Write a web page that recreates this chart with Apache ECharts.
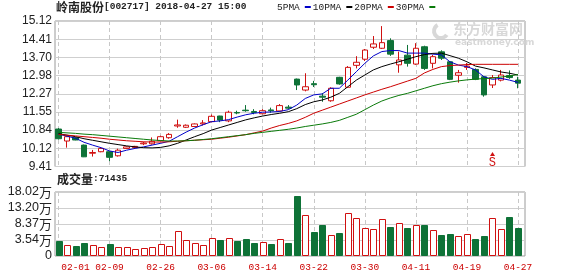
<!DOCTYPE html>
<html><head><meta charset="utf-8">
<script src="https://cdn.jsdelivr.net/npm/echarts@6/dist/echarts.min.js"></script>
<style>html,body{margin:0;padding:0;background:#fff}#c{width:578px;height:276px}</style>
</head><body><div id="c"></div>
<script>
// ---------------- data ----------------
const TITLE_NAME = '岭南股份';
const TITLE_INFO = '[002717] 2018-04-27 15:00';
const LAST_VOLUME = '71435';
const DATES = ['01-30','01-31','02-01','02-02','02-07','02-08','02-09','02-12','02-13','02-14',
  '02-22','02-23','02-26','02-27','02-28','03-01','03-02','03-05','03-06','03-07',
  '03-08','03-09','03-12','03-13','03-14','03-15','03-16','03-19','03-20','03-21',
  '03-22','03-23','03-26','03-27','03-28','03-29','03-30','04-02','04-03','04-04',
  '04-09','04-10','04-11','04-12','04-13','04-16','04-17','04-18','04-19','04-20',
  '04-23','04-24','04-25','04-26','04-27'];
const DATE_LABELS = ['02-01','02-09','02-26','03-06','03-14','03-22','03-30','04-11','04-19','04-27'];
const OPEN  = [10.88,10.41,10.54,10.25,9.93,9.99,9.99,9.83,10.12,10.15,10.30,10.30,10.42,10.54,11.00,10.95,10.98,11.08,11.17,11.39,
  11.20,11.53,11.62,11.57,11.48,11.63,11.59,11.74,12.84,12.41,12.66,12.17,11.99,12.91,12.52,13.38,13.62,14.09,14.05,14.35,
  13.40,13.78,13.43,14.11,13.46,13.91,13.52,12.99,13.30,13.22,12.93,12.61,12.80,12.98,12.80];
const HIGH  = [10.92,10.60,10.56,10.27,10.06,10.14,10.00,10.11,10.20,10.22,10.38,10.55,10.62,10.72,11.25,11.06,11.10,11.23,11.45,11.40,
  11.60,11.60,11.82,11.66,11.66,11.72,11.86,11.82,12.86,13.07,12.77,12.29,12.52,12.93,13.35,13.74,14.02,14.53,14.92,14.44,
  13.92,14.18,14.25,14.15,13.79,13.97,13.55,13.20,13.47,13.26,12.96,13.00,13.20,13.18,12.93];
const LOW   = [10.47,10.15,10.44,9.78,9.80,9.97,9.62,9.80,10.10,10.13,10.25,10.27,10.40,10.50,10.93,10.92,10.96,11.02,11.15,11.15,
  11.15,11.46,11.56,11.46,11.46,11.52,11.57,11.66,12.41,12.36,12.53,11.95,11.95,12.62,12.50,13.26,13.55,14.02,14.02,13.75,
  13.09,13.33,13.40,13.20,13.26,13.59,12.80,12.70,13.20,12.80,12.15,12.49,12.75,12.85,12.48];
const CLOSE = [10.50,10.58,10.45,9.79,9.96,10.12,9.77,10.05,10.18,10.20,10.33,10.40,10.58,10.67,11.04,11.03,11.08,11.12,11.38,11.23,
  11.54,11.51,11.60,11.53,11.60,11.60,11.80,11.70,12.61,12.54,12.62,12.13,12.48,12.65,13.30,13.50,13.98,14.22,14.27,13.82,
  13.59,13.46,14.05,13.26,13.72,13.66,12.83,13.09,13.35,12.83,12.22,12.90,13.00,12.90,12.68];
const MA5  = [10.68,10.60,10.52,10.36,10.25,10.15,10.02,9.96,10.05,10.12,10.18,10.25,10.32,10.40,10.58,10.76,10.92,11.05,11.17,11.20,
  11.25,11.35,11.44,11.50,11.54,11.55,11.57,11.64,11.82,12.08,12.22,12.26,12.48,12.48,12.80,13.13,13.46,13.75,13.92,13.96,
  13.96,13.86,13.86,13.86,13.82,13.79,13.52,13.39,13.33,13.20,12.93,12.83,12.87,12.80,12.71];
const MA10 = [10.70,10.64,10.58,10.50,10.44,10.38,10.32,10.27,10.22,10.18,10.15,10.14,10.16,10.22,10.32,10.45,10.58,10.70,10.84,10.94,
  11.04,11.14,11.24,11.32,11.39,11.45,11.50,11.56,11.68,11.84,11.95,12.02,12.13,12.28,12.54,12.80,13.00,13.20,13.33,13.43,
  13.52,13.62,13.72,13.80,13.85,13.86,13.76,13.66,13.52,13.35,13.28,13.20,13.12,13.07,13.00];
const MA20 = [10.67,10.64,10.61,10.58,10.55,10.52,10.48,10.45,10.42,10.40,10.38,10.37,10.37,10.38,10.40,10.42,10.44,10.46,10.48,10.52,
  10.56,10.61,10.66,10.73,10.80,10.92,11.02,11.10,11.20,11.34,11.50,11.62,11.74,11.86,11.98,12.10,12.22,12.33,12.44,12.54,
  12.65,12.76,12.87,13.08,13.22,13.33,13.37,13.39,13.41,13.42,13.42,13.42,13.42,13.42,13.42];
const MA30 = [10.75,10.73,10.71,10.68,10.66,10.63,10.60,10.57,10.54,10.51,10.48,10.45,10.43,10.41,10.41,10.42,10.44,10.47,10.50,10.54,
  10.58,10.62,10.66,10.71,10.75,10.79,10.83,10.87,10.92,10.98,11.03,11.08,11.14,11.22,11.34,11.46,11.64,11.82,11.98,12.10,
  12.20,12.28,12.38,12.48,12.58,12.66,12.72,12.77,12.81,12.84,12.86,12.88,12.92,12.96,13.02];
// volume in 万 (10k lots)
const VOLUME = [3.33,2.03,1.73,2.64,2.03,1.52,2.33,1.34,1.52,0.83,1.22,1.52,2.33,1.83,6.26,3.45,2.64,2.03,4.14,3.54,
  4.14,3.24,3.84,2.64,2.94,2.33,3.84,2.64,16.90,11.08,6.05,8.07,5.05,5.75,11.59,10.18,7.25,6.86,9.87,7.55,
  8.58,7.25,8.07,8.07,6.56,5.05,5.35,4.75,5.35,3.94,4.75,10.18,6.86,10.57,7.14];
const PRICE_TICKS = ['9.41','10.12','10.84','11.55','12.27','12.98','13.70','14.41','15.12'];
const PRICE_MIN = 9.41, PRICE_MAX = 15.12;
const VOL_TICKS = ['0','3.54','8.37','13.20','18.02'];
const VOL_UNIT = '万';
const VOL_MIN = -1.29, VOL_MAX = 18.02;
const MA_NAMES = ['5PMA','10PMA','20PMA','30PMA'];
const SIGNAL = {date: '04-24', price: 9.90, text: 'S'};

// ---------------- style ----------------
const RED = '#d01010', GREEN = '#0e7237';
const MA_COLORS = ['#0000c8', '#000000', '#cc0000', '#0a7a0a'];
const MONO = '"Liberation Mono","DejaVu Sans Mono",monospace';
const SANS = '"Liberation Sans",Arial,sans-serif';
const CJK = '"Noto Sans CJK SC",sans-serif';
const GRID_LINE = '#cfcfcf', BORDER = '#9a9a9a';

const chart = echarts.init(document.getElementById('c'), null, {renderer: 'canvas'});
const dashed = {show: true, interval: 5, lineStyle: {color: '#c8c8c8', type: [4, 3], width: 1}};
const maSeries = [MA5, MA10, MA20, MA30].map((arr, k) => ({
  name: MA_NAMES[k], type: 'line', xAxisIndex: 1, yAxisIndex: 1, data: arr,
  showSymbol: false, symbol: 'none', color: MA_COLORS[k],
  lineStyle: {color: MA_COLORS[k], width: 1}, itemStyle: {color: MA_COLORS[k]}, z: 3
}));

chart.setOption({
  animation: false,
  backgroundColor: '#fff',
  title: [
    {left: 56, top: 1, padding: 0, text: '{c|' + TITLE_NAME + '}{m|' + TITLE_INFO + '}',
      textStyle: {rich: {c: {fontFamily: CJK, fontSize: 12, color: '#222'}, m: {fontFamily: MONO, fontSize: 9.5, color: '#222'}}}},
    {left: 57, top: 173, padding: 0, text: '{c|成交量}{m|:' + LAST_VOLUME + '}',
      textStyle: {rich: {c: {fontFamily: CJK, fontSize: 12, color: '#222'}, m: {fontFamily: MONO, fontSize: 9.5, color: '#222'}}}}
  ],
  legend: {left: 277, top: 2, padding: 0, align: 'right', icon: 'rect', itemWidth: 6, itemHeight: 2, itemGap: 2,
    textStyle: {fontFamily: MONO, fontSize: 9.5, color: '#222'}, data: MA_NAMES, selectedMode: false},
  graphic: [
    {type: 'arc', z: 0, shape: {cx: 441, cy: 31, r: 7, startAngle: 0.6, endAngle: 4.2}, style: {stroke: '#d8d8d8', lineWidth: 4, fill: null}},
    {type: 'text', z: 0, left: 453, top: 22, style: {text: '东方财富网', fill: '#d8d8d8', font: 'bold 14px "Noto Sans CJK SC"'}},
    {type: 'text', z: 0, left: 455, top: 38, style: {text: 'eastmoney.com', fill: '#d8d8d8', font: 'bold 9px "DejaVu Sans"'}}
  ],
  grid: [
    {left: 55, top: 21, width: 470, height: 145.5, show: true, borderColor: BORDER, borderWidth: 1, backgroundColor: 'transparent'},
    {left: 58.5, top: 21, width: 459.5, height: 145.5},
    {left: 55, top: 192, width: 470, height: 64, show: true, borderColor: BORDER, borderWidth: 1, backgroundColor: 'transparent'},
    {left: 58.5, top: 192, width: 459.5, height: 64}
  ],
  xAxis: [
    {gridIndex: 0, type: 'value', min: 0, max: 1, show: false},
    {gridIndex: 1, type: 'category', data: DATES, boundaryGap: false,
      axisLine: {show: false}, axisTick: {show: false}, axisLabel: {show: false}, splitLine: dashed},
    {gridIndex: 2, type: 'value', min: 0, max: 1, show: false},
    {gridIndex: 3, type: 'category', data: DATES, boundaryGap: false,
      axisLine: {show: false}, axisTick: {show: false},
      axisLabel: {show: true, interval: (i, v) => DATE_LABELS.includes(v), color: '#cc0000', fontFamily: MONO, fontSize: 9.5, margin: 6},
      splitLine: dashed}
  ],
  yAxis: [
    {gridIndex: 0, type: 'value', min: 0, max: PRICE_TICKS.length - 1, interval: 1,
      axisLine: {show: false}, axisTick: {show: false},
      axisLabel: {formatter: v => PRICE_TICKS[v], color: '#222', fontFamily: SANS, fontSize: 12, margin: 3},
      splitLine: {show: true, lineStyle: {color: GRID_LINE, width: 1}}},
    {gridIndex: 1, type: 'value', min: PRICE_MIN, max: PRICE_MAX, show: false, splitLine: {show: false}},
    {gridIndex: 2, type: 'value', min: 0, max: VOL_TICKS.length - 1, interval: 1,
      axisLine: {show: false}, axisTick: {show: false},
      axisLabel: {formatter: v => v === 0 ? '{n|' + VOL_TICKS[v] + '}' : '{n|' + VOL_TICKS[v] + '}{w|' + VOL_UNIT + '}',
        margin: 3, rich: {n: {color: '#222', fontFamily: SANS, fontSize: 12.5}, w: {color: '#222', fontFamily: CJK, fontSize: 13}}},
      splitLine: {show: true, lineStyle: {color: GRID_LINE, width: 1}}},
    {gridIndex: 3, type: 'value', min: VOL_MIN, max: VOL_MAX, show: false, splitLine: {show: false}}
  ],
  series: [
    {name: 'K', type: 'candlestick', xAxisIndex: 1, yAxisIndex: 1, barWidth: 6,
      data: DATES.map((d, i) => [OPEN[i], CLOSE[i], LOW[i], HIGH[i]]),
      itemStyle: {color: '#ffffff', color0: GREEN, borderColor: RED, borderColor0: GREEN, borderWidth: 1},
      markPoint: {animation: false, data: [{coord: [SIGNAL.date, SIGNAL.price], symbol: 'triangle', symbolSize: [5, 4],
        itemStyle: {color: RED},
        label: {show: true, position: 'bottom', distance: 1, formatter: SIGNAL.text, color: RED, fontFamily: MONO, fontSize: 12}}]}},
    ...maSeries,
    {name: 'VOL', type: 'custom', xAxisIndex: 3, yAxisIndex: 3,
      data: VOLUME.map((v, i) => [i, v, CLOSE[i] >= OPEN[i] ? 1 : -1]),
      encode: {x: 0, y: 1},
      renderItem: (params, api) => {
        const i = api.value(0);
        const top = api.coord([i, api.value(1)]);
        const base = api.coord([i, VOL_MIN]);
        const bw = 6;
        const up = api.value(2) > 0;
        return {type: 'rect',
          shape: {x: Math.round(top[0] - bw / 2) + 0.5, y: Math.round(top[1]) + 0.5, width: bw, height: Math.round(base[1]) - Math.round(top[1]) - 1},
          style: {fill: up ? '#ffffff' : GREEN, stroke: up ? RED : GREEN, lineWidth: 1}};
      }}
  ]
});
</script></body></html>
